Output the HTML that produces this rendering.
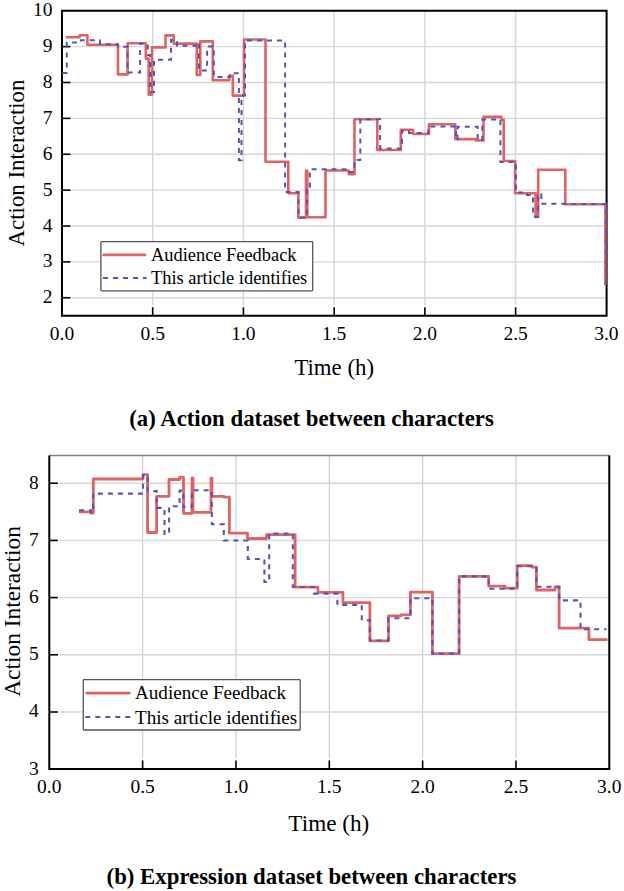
<!DOCTYPE html>
<html><head><meta charset="utf-8"><style>
html,body{margin:0;padding:0;background:#fff;}
svg{display:block;}
text{font-family:"Liberation Serif",serif;fill:#000;}
</style></head><body>
<svg width="624" height="891" viewBox="0 0 624 891">
<rect width="624" height="891" fill="#fff"/>
<line x1="152.70" y1="10.7" x2="152.70" y2="305.09999999999997" stroke="#d6d6d6" stroke-width="1.4"/>
<line x1="243.43" y1="10.7" x2="243.43" y2="305.09999999999997" stroke="#d6d6d6" stroke-width="1.4"/>
<line x1="334.16" y1="10.7" x2="334.16" y2="305.09999999999997" stroke="#d6d6d6" stroke-width="1.4"/>
<line x1="424.89" y1="10.7" x2="424.89" y2="305.09999999999997" stroke="#d6d6d6" stroke-width="1.4"/>
<line x1="515.62" y1="10.7" x2="515.62" y2="305.09999999999997" stroke="#d6d6d6" stroke-width="1.4"/>
<line x1="72.57" y1="297.75" x2="606.6" y2="297.75" stroke="#d6d6d6" stroke-width="1.4"/>
<line x1="72.57" y1="261.88" x2="606.6" y2="261.88" stroke="#d6d6d6" stroke-width="1.4"/>
<line x1="72.57" y1="226.00" x2="606.6" y2="226.00" stroke="#d6d6d6" stroke-width="1.4"/>
<line x1="72.57" y1="190.12" x2="606.6" y2="190.12" stroke="#d6d6d6" stroke-width="1.4"/>
<line x1="72.57" y1="154.25" x2="606.6" y2="154.25" stroke="#d6d6d6" stroke-width="1.4"/>
<line x1="72.57" y1="118.38" x2="606.6" y2="118.38" stroke="#d6d6d6" stroke-width="1.4"/>
<line x1="72.57" y1="82.50" x2="606.6" y2="82.50" stroke="#d6d6d6" stroke-width="1.4"/>
<line x1="72.57" y1="46.62" x2="606.6" y2="46.62" stroke="#d6d6d6" stroke-width="1.4"/>
<path d="M61.97,10.7 H606.6 V315.7 H61.97 Z" fill="none" stroke="#000" stroke-width="2"/>
<line x1="61.97" y1="297.75" x2="70.57" y2="297.75" stroke="#000" stroke-width="1.6"/>
<line x1="61.97" y1="261.88" x2="70.57" y2="261.88" stroke="#000" stroke-width="1.6"/>
<line x1="61.97" y1="226.00" x2="70.57" y2="226.00" stroke="#000" stroke-width="1.6"/>
<line x1="61.97" y1="190.12" x2="70.57" y2="190.12" stroke="#000" stroke-width="1.6"/>
<line x1="61.97" y1="154.25" x2="70.57" y2="154.25" stroke="#000" stroke-width="1.6"/>
<line x1="61.97" y1="118.38" x2="70.57" y2="118.38" stroke="#000" stroke-width="1.6"/>
<line x1="61.97" y1="82.50" x2="70.57" y2="82.50" stroke="#000" stroke-width="1.6"/>
<line x1="61.97" y1="46.62" x2="70.57" y2="46.62" stroke="#000" stroke-width="1.6"/>
<line x1="152.70" y1="315.7" x2="152.70" y2="307.2" stroke="#000" stroke-width="1.6"/>
<line x1="243.43" y1="315.7" x2="243.43" y2="307.2" stroke="#000" stroke-width="1.6"/>
<line x1="334.16" y1="315.7" x2="334.16" y2="307.2" stroke="#000" stroke-width="1.6"/>
<line x1="424.89" y1="315.7" x2="424.89" y2="307.2" stroke="#000" stroke-width="1.6"/>
<line x1="515.62" y1="315.7" x2="515.62" y2="307.2" stroke="#000" stroke-width="1.6"/>
<polyline points="65.8,37.2 79.6,37.2 79.6,35.3 87.4,35.3 87.4,44.8 118.0,44.8 118.0,74.4 127.6,74.4 127.6,43.2 145.8,43.2 145.8,58.6 148.7,58.6 148.7,94.6 152.0,94.6 152.0,47.4 165.5,47.4 165.5,35.4 173.7,35.4 173.7,43.6 196.8,43.6 196.8,75.0 200.3,75.0 200.3,41.4 212.8,41.4 212.8,80.2 229.2,80.2 229.2,75.7 232.8,75.7 232.8,95.6 244.0,95.6 244.0,39.5 265.5,39.5 265.5,161.8 288.3,161.8 288.3,193.2 298.3,193.2 298.3,217.6 306.0,217.6 306.0,170.8 307.3,170.8 307.3,217.3 325.5,217.3 325.5,170.5 348.7,170.5 348.7,174.1 354.5,174.1 354.5,119.2 377.3,119.2 377.3,150.0 400.8,150.0 400.8,129.7 413.0,129.7 413.0,134.0 429.0,134.0 429.0,124.2 455.3,124.2 455.3,139.1 475.8,139.1 475.8,140.4 483.5,140.4 483.5,116.9 501.4,116.9 501.4,119.9 503.7,119.9 503.7,161.0 515.1,161.0 515.1,193.2 535.6,193.2 535.6,216.9 538.2,216.9 538.2,169.7 565.3,169.7 565.3,204.2 605.3,204.2 605.3,285.0" fill="none" stroke="#e06262" stroke-width="2.6" stroke-linejoin="round"/>
<polyline points="62.4,73.0 66.8,73.0 66.8,42.5 81.0,42.5 81.0,40.3 100.0,40.3 100.0,44.3 118.0,44.3 118.0,46.8 127.6,46.8 127.6,72.4 140.1,72.4 140.1,43.5 147.8,43.5 147.8,55.0 150.3,55.0 150.3,92.0 154.0,92.0 154.0,59.8 171.0,59.8 171.0,40.0 177.0,40.0 177.0,45.7 196.0,45.7 196.0,42.8 199.0,42.8 199.0,70.5 207.1,70.5 207.1,46.5 213.8,46.5 213.8,77.0 230.0,77.0 230.0,73.3 238.9,73.3 238.9,160.3 241.5,160.3 241.5,95.5 245.0,95.5 245.0,40.6 285.1,40.6 285.1,192.0 298.6,192.0 298.6,217.6 307.0,217.6 307.0,190.0 309.9,190.0 309.9,169.2 349.4,169.2 349.4,172.0 354.5,172.0 354.5,160.0 360.3,160.0 360.3,119.2 380.1,119.2 380.1,148.5 402.0,148.5 402.0,130.8 409.0,130.8 409.0,133.0 428.3,133.0 428.3,126.6 456.0,126.6 456.0,139.5 457.5,139.5 457.5,126.8 477.7,126.8 477.7,140.0 482.3,140.0 482.3,119.5 500.4,119.5 500.4,162.0 516.0,162.0 516.0,192.6 527.0,192.6 527.0,195.0 533.0,195.0 533.0,216.7 538.0,216.7 538.0,194.0 541.3,194.0 541.3,203.8 606.2,204.0 606.2,285.0" fill="none" stroke="#5355b8" stroke-width="2" stroke-dasharray="5 5"/>
<text x="52.5" y="303.25" font-size="19.5" text-anchor="end">2</text>
<text x="52.5" y="267.38" font-size="19.5" text-anchor="end">3</text>
<text x="52.5" y="231.50" font-size="19.5" text-anchor="end">4</text>
<text x="52.5" y="195.62" font-size="19.5" text-anchor="end">5</text>
<text x="52.5" y="159.75" font-size="19.5" text-anchor="end">6</text>
<text x="52.5" y="123.88" font-size="19.5" text-anchor="end">7</text>
<text x="52.5" y="88.00" font-size="19.5" text-anchor="end">8</text>
<text x="52.5" y="52.12" font-size="19.5" text-anchor="end">9</text>
<text x="52.5" y="16.25" font-size="19.5" text-anchor="end">10</text>
<text x="61.97" y="339.7" font-size="19.5" text-anchor="middle">0.0</text>
<text x="152.70" y="339.7" font-size="19.5" text-anchor="middle">0.5</text>
<text x="243.43" y="339.7" font-size="19.5" text-anchor="middle">1.0</text>
<text x="334.16" y="339.7" font-size="19.5" text-anchor="middle">1.5</text>
<text x="424.89" y="339.7" font-size="19.5" text-anchor="middle">2.0</text>
<text x="515.62" y="339.7" font-size="19.5" text-anchor="middle">2.5</text>
<text x="606.35" y="339.7" font-size="19.5" text-anchor="middle">3.0</text>
<text x="334.2" y="374.9" font-size="22.8" text-anchor="middle">Time (h)</text>
<text transform="translate(24.4,163) rotate(-90)" x="0" y="0" font-size="22.85" text-anchor="middle">Action Interaction</text>
<rect x="100.9" y="241.7" width="211.8" height="49.1" rx="0.8" fill="#fff" stroke="#555" stroke-width="1.3"/>
<line x1="103.6" y1="254.9" x2="145" y2="254.9" stroke="#e06262" stroke-width="2.8" stroke-linecap="round"/>
<line x1="103" y1="277.9" x2="146.5" y2="277.9" stroke="#5355b8" stroke-width="2" stroke-dasharray="5 5"/>
<text x="151" y="260.7" font-size="18.4">Audience Feedback</text>
<text x="151" y="283.6" font-size="18.4">This article identifies</text>
<text x="311.5" y="426.1" font-size="22.8" font-weight="bold" text-anchor="middle">(a) Action dataset between characters</text>
<line x1="142.63" y1="455.5" x2="142.63" y2="758.3" stroke="#d6d6d6" stroke-width="1.4"/>
<line x1="235.97" y1="455.5" x2="235.97" y2="758.3" stroke="#d6d6d6" stroke-width="1.4"/>
<line x1="329.31" y1="455.5" x2="329.31" y2="758.3" stroke="#d6d6d6" stroke-width="1.4"/>
<line x1="422.64" y1="455.5" x2="422.64" y2="758.3" stroke="#d6d6d6" stroke-width="1.4"/>
<line x1="515.97" y1="455.5" x2="515.97" y2="758.3" stroke="#d6d6d6" stroke-width="1.4"/>
<line x1="59.9" y1="712.00" x2="609.3" y2="712.00" stroke="#d6d6d6" stroke-width="1.4"/>
<line x1="59.9" y1="654.80" x2="609.3" y2="654.80" stroke="#d6d6d6" stroke-width="1.4"/>
<line x1="59.9" y1="597.60" x2="609.3" y2="597.60" stroke="#d6d6d6" stroke-width="1.4"/>
<line x1="59.9" y1="540.40" x2="609.3" y2="540.40" stroke="#d6d6d6" stroke-width="1.4"/>
<line x1="59.9" y1="483.20" x2="609.3" y2="483.20" stroke="#d6d6d6" stroke-width="1.4"/>
<line x1="49.3" y1="455.5" x2="609.3" y2="455.5" stroke="#808080" stroke-width="1.7"/>
<path d="M49.3,455.5 V768.9 H609.3 V455.5" fill="none" stroke="#000" stroke-width="2"/>
<line x1="49.3" y1="712.00" x2="57.9" y2="712.00" stroke="#000" stroke-width="1.6"/>
<line x1="49.3" y1="654.80" x2="57.9" y2="654.80" stroke="#000" stroke-width="1.6"/>
<line x1="49.3" y1="597.60" x2="57.9" y2="597.60" stroke="#000" stroke-width="1.6"/>
<line x1="49.3" y1="540.40" x2="57.9" y2="540.40" stroke="#000" stroke-width="1.6"/>
<line x1="49.3" y1="483.20" x2="57.9" y2="483.20" stroke="#000" stroke-width="1.6"/>
<line x1="142.63" y1="768.9" x2="142.63" y2="760.4" stroke="#000" stroke-width="1.6"/>
<line x1="235.97" y1="768.9" x2="235.97" y2="760.4" stroke="#000" stroke-width="1.6"/>
<line x1="329.31" y1="768.9" x2="329.31" y2="760.4" stroke="#000" stroke-width="1.6"/>
<line x1="422.64" y1="768.9" x2="422.64" y2="760.4" stroke="#000" stroke-width="1.6"/>
<line x1="515.97" y1="768.9" x2="515.97" y2="760.4" stroke="#000" stroke-width="1.6"/>
<polyline points="79.0,511.9 91.0,511.9 91.0,513.0 93.3,513.0 93.3,479.0 143.0,479.0 143.0,474.7 147.6,474.7 147.6,532.5 156.6,532.5 156.6,496.3 169.0,496.3 169.0,479.5 179.6,479.5 179.6,477.2 183.5,477.2 183.5,513.3 192.0,513.3 192.0,478.2 193.0,478.2 193.0,512.3 211.0,512.3 211.0,478.2 212.0,478.2 212.0,496.3 223.8,496.3 223.8,497.2 229.4,497.2 229.4,533.1 247.5,533.1 247.5,538.5 266.5,538.5 266.5,534.6 295.1,534.6 295.1,587.2 317.9,587.2 317.9,592.3 342.9,592.3 342.9,602.6 369.9,602.6 369.9,640.8 388.5,640.8 388.5,615.8 401.0,615.8 401.0,614.9 410.4,614.9 410.4,592.1 432.4,592.1 432.4,653.6 459.1,653.6 459.1,576.4 488.7,576.4 488.7,586.2 505.0,586.2 505.0,588.1 517.2,588.1 517.2,565.6 531.9,565.6 531.9,567.2 536.4,567.2 536.4,590.0 555.0,590.0 555.0,587.0 559.1,587.0 559.1,628.2 588.9,628.2 588.9,639.7 607.5,639.7" fill="none" stroke="#e06262" stroke-width="2.8" stroke-linejoin="round"/>
<polyline points="79.0,510.3 91.0,510.3 91.0,512.5 93.1,512.5 93.1,493.6 143.0,493.6 143.0,475.1 147.6,475.1 147.6,491.1 156.7,491.1 156.7,507.9 164.5,507.9 164.5,534.0 169.1,534.0 169.1,506.3 179.6,506.3 179.6,490.5 183.5,490.5 183.5,507.0 191.8,507.0 191.8,490.2 211.8,490.2 211.8,524.3 223.8,524.3 223.8,540.5 247.8,540.5 247.8,559.0 264.4,559.0 264.4,582.0 269.2,582.0 269.2,533.6 292.8,533.6 292.8,587.0 314.0,587.0 314.0,593.6 337.4,593.6 337.4,604.9 361.8,604.9 361.8,620.3 369.9,620.3 369.9,640.5 388.3,640.5 388.3,618.3 410.5,618.3 410.5,598.2 432.4,598.2 432.4,653.6 459.1,653.6 459.1,576.4 488.7,576.4 488.7,588.7 517.2,588.7 517.2,566.3 536.4,566.3 536.4,586.8 559.3,586.8 559.3,600.4 580.5,600.4 580.5,629.2 606.5,629.2" fill="none" stroke="#5355b8" stroke-width="2.1" stroke-dasharray="5 5"/>
<text x="38.8" y="774.50" font-size="19.5" text-anchor="end">3</text>
<text x="38.8" y="717.30" font-size="19.5" text-anchor="end">4</text>
<text x="38.8" y="660.10" font-size="19.5" text-anchor="end">5</text>
<text x="38.8" y="602.90" font-size="19.5" text-anchor="end">6</text>
<text x="38.8" y="545.70" font-size="19.5" text-anchor="end">7</text>
<text x="38.8" y="488.50" font-size="19.5" text-anchor="end">8</text>
<text x="49.30" y="793.3" font-size="19.5" text-anchor="middle">0.0</text>
<text x="142.63" y="793.3" font-size="19.5" text-anchor="middle">0.5</text>
<text x="235.97" y="793.3" font-size="19.5" text-anchor="middle">1.0</text>
<text x="329.31" y="793.3" font-size="19.5" text-anchor="middle">1.5</text>
<text x="422.64" y="793.3" font-size="19.5" text-anchor="middle">2.0</text>
<text x="515.97" y="793.3" font-size="19.5" text-anchor="middle">2.5</text>
<text x="609.31" y="793.3" font-size="19.5" text-anchor="middle">3.0</text>
<text x="328.85" y="830.6" font-size="23.2" text-anchor="middle">Time (h)</text>
<text transform="translate(19.9,611.4) rotate(-90)" x="0" y="0" font-size="23.4" text-anchor="middle">Action Interaction</text>
<rect x="83.3" y="679.7" width="216.9" height="50.3" rx="0.8" fill="#fff" stroke="#555" stroke-width="1.3"/>
<line x1="86.7" y1="693.1" x2="129.4" y2="693.1" stroke="#e06262" stroke-width="2.8" stroke-linecap="round"/>
<line x1="85.3" y1="716.9" x2="130.8" y2="716.9" stroke="#5355b8" stroke-width="2" stroke-dasharray="5 5"/>
<text x="135" y="699.4" font-size="19.1">Audience Feedback</text>
<text x="135" y="723.5" font-size="19.1">This article identifies</text>
<text x="311.5" y="883.7" font-size="22.8" font-weight="bold" text-anchor="middle">(b) Expression dataset between characters</text>
</svg></body></html>
